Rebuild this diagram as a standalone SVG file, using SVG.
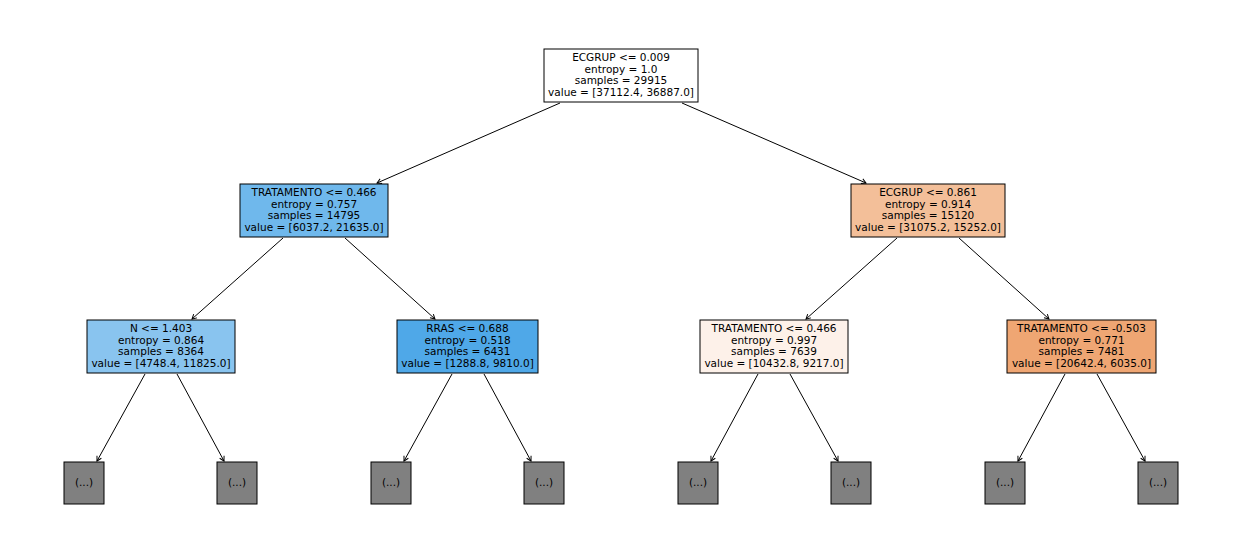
<svg xmlns="http://www.w3.org/2000/svg" width="1242" height="558" viewBox="0 0 1242 558">
<defs>
<marker id="ah" markerWidth="10" markerHeight="10" refX="7" refY="5" orient="auto" markerUnits="userSpaceOnUse">
<path d="M2.5,2.5 L7,5 L2.5,7.5" fill="none" stroke="#000" stroke-width="1"/>
</marker>
</defs>
<style>
.box{stroke:#000;stroke-width:1}
.t{font-family:"DejaVu Sans",sans-serif;font-size:10.5px;fill:#000;text-anchor:middle}
.e{stroke:#000;stroke-width:1;fill:none;marker-end:url(#ah)}
</style>
<rect width="1242" height="558" fill="#fff"/>
<g id="connectors">
<line class="e" x1="560" y1="103" x2="377" y2="183"/>
<line class="e" x1="682" y1="103" x2="866" y2="183"/>
<line class="e" x1="283" y1="238" x2="192" y2="319"/>
<line class="e" x1="345" y1="238" x2="435" y2="319"/>
<line class="e" x1="897" y1="238" x2="806" y2="319"/>
<line class="e" x1="959" y1="238" x2="1049" y2="319"/>
<line class="e" x1="145" y1="374" x2="97" y2="461"/>
<line class="e" x1="177" y1="374" x2="224" y2="461"/>
<line class="e" x1="452" y1="374" x2="404" y2="461"/>
<line class="e" x1="484" y1="374" x2="531" y2="461"/>
<line class="e" x1="758" y1="374" x2="711" y2="461"/>
<line class="e" x1="790" y1="374" x2="838" y2="461"/>
<line class="e" x1="1065" y1="374" x2="1018" y2="461"/>
<line class="e" x1="1097" y1="374" x2="1145" y2="461"/>
</g>
<g id="n0">
<rect class="box" x="544" y="49" width="154" height="53" fill="#fff"/>
<text class="t" x="621" y="61">ECGRUP &lt;= 0.009</text>
<text class="t" x="621" y="72.5">entropy = 1.0</text>
<text class="t" x="621" y="84">samples = 29915</text>
<text class="t" x="621" y="95.5">value = [37112.4, 36887.0]</text>
</g>
<g id="n1">
<rect class="box" x="240" y="184" width="148" height="53" fill="#6fb8ec"/>
<text class="t" x="314" y="196">TRATAMENTO &lt;= 0.466</text>
<text class="t" x="314" y="207.5">entropy = 0.757</text>
<text class="t" x="314" y="219">samples = 14795</text>
<text class="t" x="314" y="230.5">value = [6037.2, 21635.0]</text>
</g>
<g id="n2">
<rect class="box" x="851" y="184" width="154" height="53" fill="#f3bf99"/>
<text class="t" x="928" y="196">ECGRUP &lt;= 0.861</text>
<text class="t" x="928" y="207.5">entropy = 0.914</text>
<text class="t" x="928" y="219">samples = 15120</text>
<text class="t" x="928" y="230.5">value = [31075.2, 15252.0]</text>
</g>
<g id="n3">
<rect class="box" x="87" y="320" width="148" height="53" fill="#89c4ef"/>
<text class="t" x="161" y="332">N &lt;= 1.403</text>
<text class="t" x="161" y="343.5">entropy = 0.864</text>
<text class="t" x="161" y="355">samples = 8364</text>
<text class="t" x="161" y="366.5">value = [4748.4, 11825.0]</text>
</g>
<g id="n4">
<rect class="box" x="397" y="320" width="141" height="53" fill="#4fa8e8"/>
<text class="t" x="467.5" y="332">RRAS &lt;= 0.688</text>
<text class="t" x="467.5" y="343.5">entropy = 0.518</text>
<text class="t" x="467.5" y="355">samples = 6431</text>
<text class="t" x="467.5" y="366.5">value = [1288.8, 9810.0]</text>
</g>
<g id="n5">
<rect class="box" x="700" y="320" width="148" height="53" fill="#fdf1e9"/>
<text class="t" x="774" y="332">TRATAMENTO &lt;= 0.466</text>
<text class="t" x="774" y="343.5">entropy = 0.997</text>
<text class="t" x="774" y="355">samples = 7639</text>
<text class="t" x="774" y="366.5">value = [10432.8, 9217.0]</text>
</g>
<g id="n6">
<rect class="box" x="1007" y="320" width="149" height="53" fill="#efa673"/>
<text class="t" x="1081.5" y="332">TRATAMENTO &lt;= -0.503</text>
<text class="t" x="1081.5" y="343.5">entropy = 0.771</text>
<text class="t" x="1081.5" y="355">samples = 7481</text>
<text class="t" x="1081.5" y="366.5">value = [20642.4, 6035.0]</text>
</g>
<g id="l1"><rect class="box" x="64" y="462" width="40" height="42" fill="#808080"/><text class="t" x="84" y="486">(...)</text></g>
<g id="l2"><rect class="box" x="217" y="462" width="40" height="42" fill="#808080"/><text class="t" x="237" y="486">(...)</text></g>
<g id="l3"><rect class="box" x="371" y="462" width="40" height="42" fill="#808080"/><text class="t" x="391" y="486">(...)</text></g>
<g id="l4"><rect class="box" x="524" y="462" width="40" height="42" fill="#808080"/><text class="t" x="544" y="486">(...)</text></g>
<g id="l5"><rect class="box" x="678" y="462" width="40" height="42" fill="#808080"/><text class="t" x="698" y="486">(...)</text></g>
<g id="l6"><rect class="box" x="831" y="462" width="40" height="42" fill="#808080"/><text class="t" x="851" y="486">(...)</text></g>
<g id="l7"><rect class="box" x="985" y="462" width="40" height="42" fill="#808080"/><text class="t" x="1005" y="486">(...)</text></g>
<g id="l8"><rect class="box" x="1138" y="462" width="40" height="42" fill="#808080"/><text class="t" x="1158" y="486">(...)</text></g>
</svg>
